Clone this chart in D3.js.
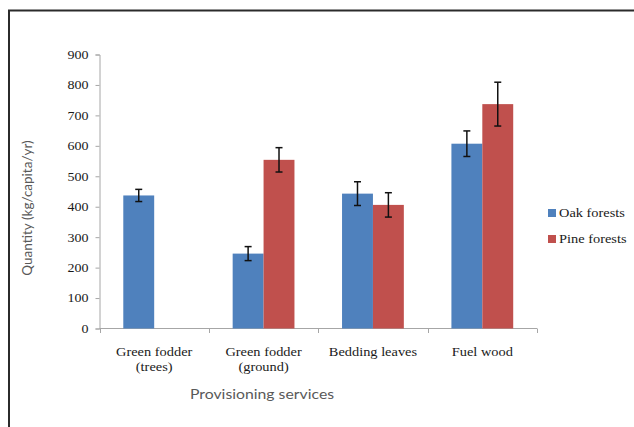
<!DOCTYPE html>
<html><head><meta charset="utf-8">
<script src="https://cdn.jsdelivr.net/npm/d3@7"></script>
<style>html,body{margin:0;padding:0;background:#fff;}svg{display:block;}</style>
</head><body>
<svg id="chart" width="634" height="427"></svg>
<script>
const categories = [["Green fodder", "(trees)"], ["Green fodder", "(ground)"], ["Bedding leaves"], ["Fuel wood"]];
const seriesNames = ["Oak forests", "Pine forests"];
const oakValues = [437, 246, 443, 607];
const oakErrors = [20, 23, 39, 42];
const pineValues = [null, 554, 406, 737];
const pineErrors = [null, 40, 40, 72];
const yTicks = [0, 100, 200, 300, 400, 500, 600, 700, 800, 900];
const colors = ["#4F81BD", "#C0504D"];

const svg = d3.select("#chart");
const SX = 1.17;
// outer frame
svg.append("rect").attr("x", 9).attr("y", 10.5).attr("width", 640).attr("height", 440)
  .attr("fill", "none").attr("stroke", "#2b2b2b").attr("stroke-width", 2);

const x0 = d3.scaleBand().domain(d3.range(categories.length)).range([99.5, 537]).padding(0);
const x1 = d3.scaleBand().domain(d3.range(2)).range([0, x0.bandwidth()]).paddingInner(0).paddingOuter(0.77);
const y = d3.scaleLinear().domain([0, 900]).range([328.5, 54.5]);

const serif = "'Liberation Serif', 'Times New Roman', serif";
const sans = "Lato, 'Open Sans', sans-serif";
const axisCol = "#a6a6a6";

// y axis
const yAxis = svg.append("g").attr("transform", "translate(99.5,0)")
  .call(d3.axisLeft(y).tickValues(yTicks).tickSize(4).tickFormat(d3.format("d")));
yAxis.select(".domain").attr("stroke", axisCol);
yAxis.selectAll(".tick line").attr("stroke", axisCol);
yAxis.selectAll("text").attr("x", 0).attr("transform", `translate(-11,0) scale(${SX},1)`)
  .attr("font-family", serif).attr("font-size", 12).attr("fill", "#1a1a1a");

// x axis line & ticks
svg.append("line").attr("x1", 99.5).attr("x2", 537).attr("y1", 328.5).attr("y2", 328.5).attr("stroke", axisCol);
const bounds = d3.range(categories.length + 1).map(i => i < categories.length ? x0(i) : x0(categories.length - 1) + x0.bandwidth());
svg.selectAll(".xt").data(bounds).join("line")
  .attr("x1", d => Math.round(d) + 0.5).attr("x2", d => Math.round(d) + 0.5)
  .attr("y1", 328.5).attr("y2", 333).attr("stroke", axisCol);

// bars
const series = [
  {vals: oakValues, errs: oakErrors},
  {vals: pineValues, errs: pineErrors}
];
series.forEach((s, si) => {
  const data = s.vals.map((v, i) => ({i, v, e: s.errs[i]})).filter(d => d.v !== null);
  const g = svg.append("g");
  g.selectAll("rect").data(data).join("rect")
    .attr("x", d => x0(d.i) + x1(si))
    .attr("width", x1.bandwidth())
    .attr("y", d => y(d.v))
    .attr("height", d => y(0) - y(d.v))
    .attr("fill", colors[si]);
  const eb = g.selectAll(".eb").data(data).join("g");
  const cx = d => x0(d.i) + x1(si) + x1.bandwidth() / 2;
  eb.append("line").attr("x1", cx).attr("x2", cx)
    .attr("y1", d => y(d.v + d.e)).attr("y2", d => y(d.v - d.e))
    .attr("stroke", "#111").attr("stroke-width", 1.5);
  [1, -1].forEach(sg => {
    eb.append("line").attr("x1", d => cx(d) - 3.5).attr("x2", d => cx(d) + 3.5)
      .attr("y1", d => y(d.v + sg * d.e)).attr("y2", d => y(d.v + sg * d.e))
      .attr("stroke", "#111").attr("stroke-width", 1.5);
  });
});

// category labels
categories.forEach((lines, i) => {
  const cxp = x0(i) + x0.bandwidth() / 2;
  lines.forEach((l, k) => {
    svg.append("text").attr("transform", `translate(${cxp},${356 + k * 15}) scale(${SX},1)`)
      .attr("text-anchor", "middle").attr("font-family", serif).attr("font-size", 12.3)
      .attr("fill", "#1a1a1a").text(l);
  });
});

// axis titles
svg.append("text").attr("transform", `translate(262,399) scale(${SX},1)`).attr("text-anchor", "middle")
  .attr("font-family", sans).attr("font-size", 13.5).attr("fill", "#595959")
  .text("Provisioning services");
svg.append("text").attr("transform", "translate(32,208) rotate(-90)").attr("text-anchor", "middle")
  .attr("font-family", sans).attr("font-size", 13.5).attr("fill", "#595959")
  .text("Quantity (kg/capita/yr)");

// legend
seriesNames.forEach((n, i) => {
  const ly = 213 + i * 26;
  svg.append("rect").attr("x", 548).attr("y", ly - 4).attr("width", 8).attr("height", 8).attr("fill", colors[i]);
  svg.append("text").attr("transform", `translate(559,${ly + 4}) scale(${SX},1)`)
    .attr("font-family", serif).attr("font-size", 12.3)
    .attr("fill", "#1a1a1a").text(n);
});
</script>
</body></html>
